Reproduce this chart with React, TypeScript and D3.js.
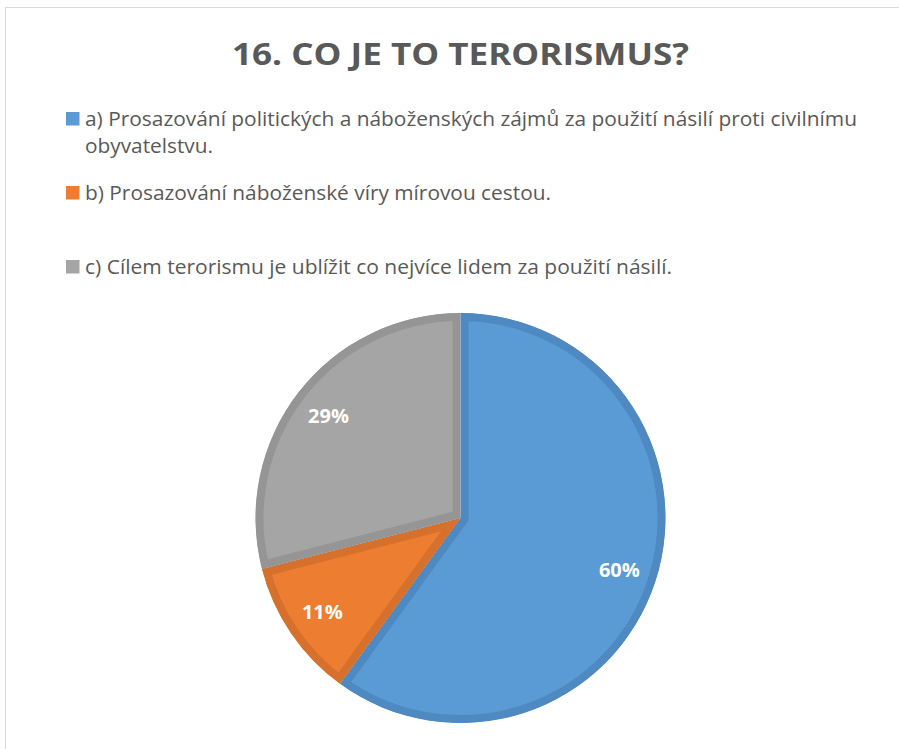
import React from 'react';
import * as d3 from 'd3';

const title = '16. CO JE TO TERORISMUS?';
const categories = [
	'a) Prosazování politických a náboženských zájmů za použití násilí proti civilnímu obyvatelstvu.',
	'b) Prosazování náboženské víry mírovou cestou.',
	'c) Cílem terorismu je ublížit co nejvíce lidem za použití násilí.',
];
const legendLines = [
	['a) Prosazování politických a náboženských zájmů za použití násilí proti civilnímu', 'obyvatelstvu.'],
	['b) Prosazování náboženské víry mírovou cestou.'],
	['c) Cílem terorismu je ublížit co nejvíce lidem za použití násilí.'],
];
const values = [60, 11, 29];
const labels = ['60%', '11%', '29%'];
const fills = ['#5b9bd5', '#ed7d31', '#a5a5a5'];
const borders = ['#4f89c1', '#d5712c', '#959595'];

const W = 899;
const H = 749;
const cx = 460.5;
const cy = 518;
const R = 205;
const labelR = 167;
const legendY = [125.5, 199.5, 273.5];
// rendered widths of the legend lines, so the Calibri-like metrics are kept
const legendWidths = [[772, 128], [466], [587]];
const textColor = '#595959';

const App = () => {
	const pie = d3.pie<number>().sort(null).value((d) => d);
	const arcs = pie(values);
	const arc = d3.arc<d3.PieArcDatum<number>>().innerRadius(0).outerRadius(R);
	const labelArc = d3.arc<d3.PieArcDatum<number>>().innerRadius(labelR).outerRadius(labelR);

	return (
		<svg width={ W } height={ H } style={ { position: 'absolute', left: 0, top: 0 } }
			fontFamily="'Open Sans', sans-serif">
			<rect x={ 5.5 } y={ 7.5 } width={ W + 20 } height={ H + 20 } fill="#fff" stroke="#d9d9d9" />
			<text x={ cx } y={ 65 } textAnchor="middle" fontSize={ 31 } fontWeight="bold" fill={ textColor }
				textLength={ 457 } lengthAdjust="spacingAndGlyphs">{ title }</text>
			{ categories.map((c, i) => (
				<g key={ c }>
					<rect x={ 66 } y={ legendY[i] - 13.5 } width={ 13.5 } height={ 13.5 } fill={ fills[i] } />
					{ legendLines[i].map((line, j) => (
						<text key={ line } x={ 85 } y={ legendY[i] + j * 27.5 } fontSize={ 19.5 } fill={ textColor }
							textLength={ legendWidths[i][j] } lengthAdjust="spacingAndGlyphs">{ line }</text>
					)) }
				</g>
			)) }
			<defs>
				{ arcs.map((a, i) => (
					<clipPath key={ i } id={ `slice-${ i }` }>
						<path d={ arc(a) ?? '' } />
					</clipPath>
				)) }
			</defs>
			<g transform={ `translate(${ cx },${ cy })` }>
				{ arcs.map((a, i) => (
					<path key={ i } d={ arc(a) ?? '' }
						fill={ fills[i] } stroke={ borders[i] } strokeWidth={ 16 } strokeLinejoin="miter"
						clipPath={ `url(#slice-${ i })` } />
				)) }
				{ arcs.map((a, i) => {
					const [x, y] = labelArc.centroid(a);
					return (
						<text key={ `l${ i }` } x={ x } y={ y } dy="0.35em" textAnchor="middle" fontSize={ 20 }
							fontWeight="bold" fill="#fff">{ labels[i] }</text>
					);
				}) }
			</g>
		</svg>
	);
};

export default App;
